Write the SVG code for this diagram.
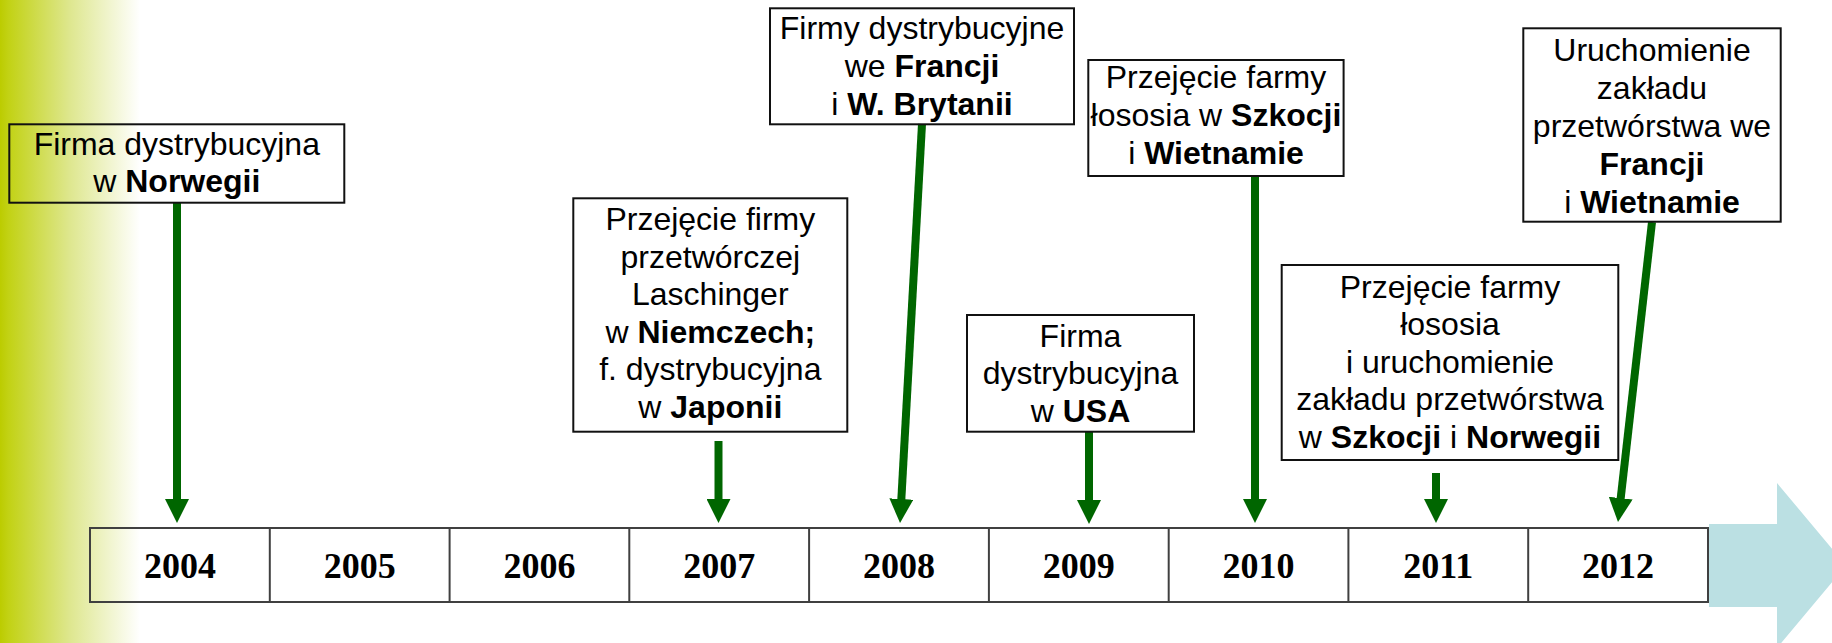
<svg xmlns="http://www.w3.org/2000/svg" width="1832" height="643" viewBox="0 0 1832 643">
  <defs>
    <linearGradient id="bg" gradientUnits="userSpaceOnUse" x1="0" y1="0" x2="140" y2="0">
      <stop offset="0" stop-color="#bccc00"/>
      <stop offset="0.06" stop-color="#c2d214"/>
      <stop offset="0.5" stop-color="#dee78f"/>
      <stop offset="1" stop-color="#ffffff"/>
    </linearGradient>
    <marker id="head" markerUnits="userSpaceOnUse" markerWidth="24" markerHeight="24" refX="1" refY="12" orient="auto" viewBox="0 0 24 24">
      <path d="M0,0 L24,12 L0,24 z" fill="#006600"/>
    </marker>
    <style>
      .box { fill: none; stroke: #111111; stroke-width: 2; }
      .txt { font-family: "Liberation Sans", Arial, sans-serif; font-size: 32px; fill: #000000; text-anchor: middle; }
      .b { font-weight: bold; }
      .cell { fill: none; stroke: #404040; stroke-width: 2; }
      .year { font-family: "Liberation Serif", "Times New Roman", serif; font-size: 36px; font-weight: bold; fill: #000000; text-anchor: middle; }
      .arr { stroke: #006600; stroke-width: 8; fill: none; marker-end: url(#head); }
    </style>
  </defs>

  <rect x="0" y="0" width="1832" height="643" fill="#ffffff"/>
  <rect x="0" y="0" width="140" height="643" fill="url(#bg)"/>

  <!-- big arrow -->
  <polygon id="timeline-arrow" points="1709,524 1777,524 1777,483 1846,565.5 1777,648 1777,607 1709,607" fill="#bbe0e3"/>

  <!-- timeline table -->
  <g id="timeline">
    <rect class="cell" x="90" y="528" width="1618" height="74"/>
    <g stroke="#404040" stroke-width="2">
      <line x1="269.8" y1="528" x2="269.8" y2="602"/>
      <line x1="449.6" y1="528" x2="449.6" y2="602"/>
      <line x1="629.3" y1="528" x2="629.3" y2="602"/>
      <line x1="809.1" y1="528" x2="809.1" y2="602"/>
      <line x1="988.9" y1="528" x2="988.9" y2="602"/>
      <line x1="1168.7" y1="528" x2="1168.7" y2="602"/>
      <line x1="1348.4" y1="528" x2="1348.4" y2="602"/>
      <line x1="1528.2" y1="528" x2="1528.2" y2="602"/>
    </g>
    <text class="year" x="179.9" y="578">2004</text>
    <text class="year" x="359.7" y="578">2005</text>
    <text class="year" x="539.4" y="578">2006</text>
    <text class="year" x="719.2" y="578">2007</text>
    <text class="year" x="899" y="578">2008</text>
    <text class="year" x="1078.8" y="578">2009</text>
    <text class="year" x="1258.6" y="578">2010</text>
    <text class="year" x="1438.3" y="578">2011</text>
    <text class="year" x="1618.1" y="578">2012</text>
  </g>

  <!-- connectors -->
  <g id="connectors">
    <line class="arr" x1="177" y1="203" x2="177" y2="500"/>
    <line class="arr" x1="718.5" y1="441" x2="718.5" y2="500"/>
    <line class="arr" x1="922" y1="124" x2="901.3" y2="500"/>
    <line class="arr" x1="1089" y1="432" x2="1089" y2="501"/>
    <line class="arr" x1="1255" y1="177" x2="1255" y2="500"/>
    <line class="arr" x1="1436" y1="473" x2="1436" y2="500"/>
    <line class="arr" x1="1652" y1="222" x2="1620.6" y2="499.1"/>
  </g>

  <!-- nodes -->
  <g id="n2004">
    <rect class="box" x="9.3" y="124.3" width="335" height="78.4"/>
    <text class="txt" x="176.8" y="155">Firma dystrybucyjna</text>
    <text class="txt" x="176.8" y="192">w <tspan class="b">Norwegii</tspan></text>
  </g>

  <g id="n2007">
    <rect class="box" x="573.3" y="198.3" width="274" height="233.4"/>
    <text class="txt" x="710.3" y="230">Przejęcie firmy</text>
    <text class="txt" x="710.3" y="267.5">przetwórczej</text>
    <text class="txt" x="710.3" y="305">Laschinger</text>
    <text class="txt" x="710.3" y="342.5">w <tspan class="b">Niemczech;</tspan></text>
    <text class="txt" x="710.3" y="380">f. dystrybucyjna</text>
    <text class="txt" x="710.3" y="417.5">w <tspan class="b">Japonii</tspan></text>
  </g>

  <g id="n2008">
    <rect class="box" x="770" y="8.3" width="304" height="116"/>
    <text class="txt" x="922" y="39">Firmy dystrybucyjne</text>
    <text class="txt" x="922" y="77">we <tspan class="b">Francji</tspan></text>
    <text class="txt" x="922" y="115">i <tspan class="b">W. Brytanii</tspan></text>
  </g>

  <g id="n2009">
    <rect class="box" x="967" y="315" width="227" height="116.7"/>
    <text class="txt" x="1080.5" y="346.5">Firma</text>
    <text class="txt" x="1080.5" y="384">dystrybucyjna</text>
    <text class="txt" x="1080.5" y="421.5">w <tspan class="b">USA</tspan></text>
  </g>

  <g id="n2010">
    <rect class="box" x="1088.3" y="60" width="255.3" height="116"/>
    <text class="txt" x="1216" y="88">Przejęcie farmy</text>
    <text class="txt" x="1216" y="126">łososia w <tspan class="b">Szkocji</tspan></text>
    <text class="txt" x="1216" y="164">i <tspan class="b">Wietnamie</tspan></text>
  </g>

  <g id="n2011">
    <rect class="box" x="1281.7" y="265" width="336.6" height="195"/>
    <text class="txt" x="1450" y="297.5">Przejęcie farmy</text>
    <text class="txt" x="1450" y="335">łososia</text>
    <text class="txt" x="1450" y="372.5">i uruchomienie</text>
    <text class="txt" x="1450" y="410">zakładu przetwórstwa</text>
    <text class="txt" x="1450" y="448">w <tspan class="b">Szkocji</tspan> i <tspan class="b">Norwegii</tspan></text>
  </g>

  <g id="n2012">
    <rect class="box" x="1523.3" y="28.3" width="257.4" height="193.4"/>
    <text class="txt" x="1652" y="61">Uruchomienie</text>
    <text class="txt" x="1652" y="99">zakładu</text>
    <text class="txt" x="1652" y="137">przetwórstwa we</text>
    <text class="txt" x="1652" y="175" font-weight="bold">Francji</text>
    <text class="txt" x="1652" y="213">i <tspan class="b">Wietnamie</tspan></text>
  </g>
</svg>
